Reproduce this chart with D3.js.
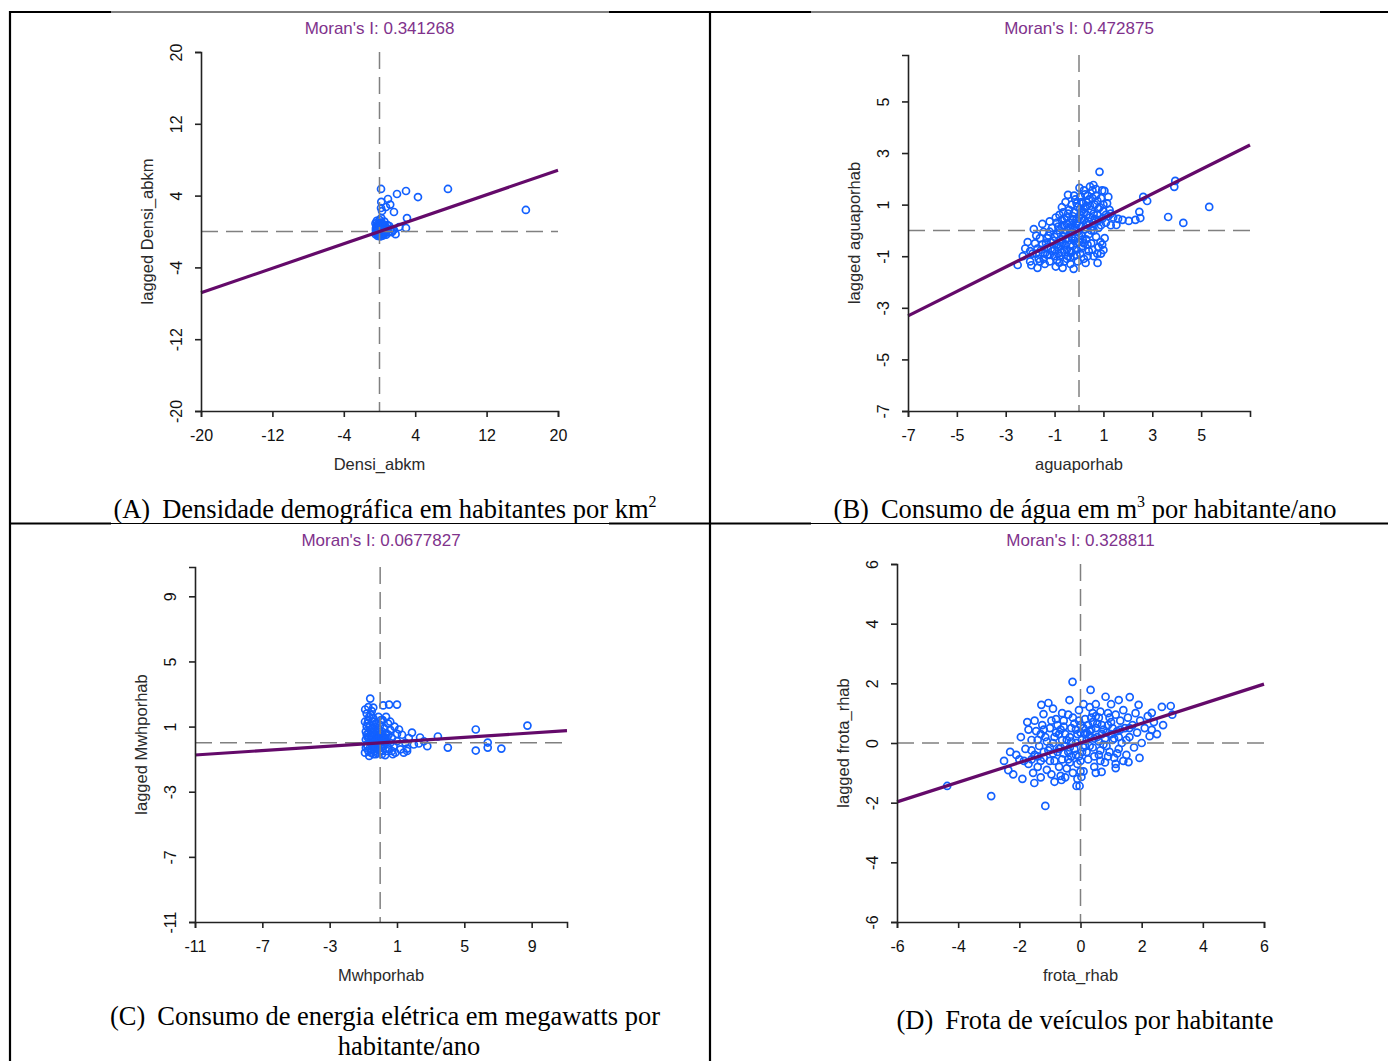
<!DOCTYPE html>
<html>
<head>
<meta charset="utf-8">
<script src="https://cdn.jsdelivr.net/npm/d3@7"></script>
<style>
  body { margin: 0; background: #fff; }
  .tick text { font-family: "Liberation Sans", Arial, sans-serif; font-size: 16px; fill: #111; }
  .eje path, .eje line { stroke: #222; stroke-width: 1.6px; }
  .titulo { font-family: "Liberation Sans", Arial, sans-serif; font-size: 17px; fill: #80328c; }
  .rotulo { font-family: "Liberation Sans", Arial, sans-serif; font-size: 16.5px; fill: #2a2a2a; }
  .legenda { font-family: "Liberation Serif", "Times New Roman", serif; font-size: 26.5px; fill: #000; }
</style>
</head>
<body>
<svg id="fig" width="1388" height="1061"></svg>
<script>
// valores de I de Moran
var moranI = [0.341268, 0.472875, 0.0677827, 0.328811];
var variaveis = ["Densi_abkm", "aguaporhab", "Mwhporhab", "frota_rhab"];
var legendas = [
  ["(A)", "Densidade demográfica em habitantes por km", "2"],
  ["(B)", "Consumo de água em m", "3", " por habitante/ano"],
  ["(C)", "Consumo de energia elétrica em megawatts por", "habitante/ano"],
  ["(D)", "Frota de veículos por habitante"]
];

var ticksA = [-20, -12, -4, 4, 12, 20];
var ticksBx = [-7, -5, -3, -1, 1, 3, 5];
var ticksBy = [-7, -5, -3, -1, 1, 3, 5];
var ticksC = [-11, -7, -3, 1, 5, 9];
var ticksD = [-6, -4, -2, 0, 2, 4, 6];

// [valor padronizado, defasagem espacial]
var densiPts = [
  [-0.45,-0.3],[-0.4,0.1],[-0.35,0.5],[-0.3,-0.1],[-0.25,0.3],[-0.2,0.8],[-0.15,-0.35],[-0.1,0.2],[-0.05,0.6],[0,-0.2],
  [0.05,0.4],[0.1,1.0],[0.15,0.0],[0.2,0.5],[0.25,-0.3],[0.3,0.9],[0.35,0.2],[0.4,-0.1],[0.45,0.6],[0.5,0.3],
  [0.6,-0.2],[0.7,0.4],[0.8,0.1],[0.9,0.7],[1.0,-0.1],[1.2,0.3],[1.4,0.0],[-0.3,1.2],[0.0,1.3],[0.2,1.5],
  [-0.45,0.9],[0.55,1.1],[0.75,-0.35],[1.1,0.6],[1.6,0.2],[1.8,-0.3],[-0.2,-0.5],[0.1,-0.55],[0.4,-0.45],[2.2,0.5],
  [-0.35,-0.15],[-0.25,0.05],[-0.15,0.35],[-0.05,0.0],[0.05,0.15],[0.15,0.6],[0.25,0.2],[0.35,-0.15],[0.45,0.1],[-0.4,0.35],
  [-0.2,0.55],[0.0,0.75],[0.3,0.45],[0.55,0.0],[0.65,0.55],[-0.3,0.7],[0.1,-0.25],[-0.1,-0.2],[0.2,0.9],[0.5,0.75],
  [0.17,4.74],[7.67,4.74],[2.97,4.51],[1.96,4.18],[0.95,3.62],[4.31,3.84],[16.4,2.40],[0.17,2.62],[0.73,2.73],[1.62,2.17],
  [0.28,2.28],[3.08,1.50],[2.97,0.39],[1.40,-0.06],[0.2,3.3],[1.2,3.0]
];
var aguaPts = [
  [-0.9,0.3],[-0.8,0.6],[-0.7,0.9],[-0.6,0.2],[-0.55,1.1],[-0.5,0.5],[-0.45,1.38],[-0.4,0.8],[-0.35,0.1],[-0.3,1.0],
  [-0.25,0.4],[-0.2,0.7],[-0.15,1.2],[-0.1,0.25],[-0.05,0.9],[0.0,0.5],[0.02,1.65],[0.05,1.3],[0.1,0.15],[0.12,0.75],
  [0.15,1.05],[0.2,0.4],[0.25,1.4],[0.3,0.6],[0.32,0.95],[0.35,0.2],[0.4,1.2],[0.45,0.5],[0.5,0.8],[0.55,1.55],
  [0.59,1.76],[0.6,0.3],[0.65,1.0],[0.7,1.35],[0.75,0.6],[0.8,0.1],[0.84,2.27],[0.85,0.9],[0.9,1.25],[0.95,0.45],
  [1.0,0.75],[1.04,1.53],[1.1,0.3],[1.15,1.05],[1.2,0.55],[1.25,0.8],[1.3,0.2],[1.4,0.5],[1.53,0.21],[1.6,0.45],
  [1.78,0.41],[2.04,0.37],[2.31,0.41],[2.51,0.48],[2.47,0.72],[2.63,1.30],[2.79,1.14],[3.90,1.69],[3.94,1.92],[5.33,0.91],
  [3.65,0.52],[4.27,0.29],[0.7,1.6],[0.45,1.7],[0.2,1.55],[-0.2,1.35],[1.2,1.3],[0.95,1.55],
  [-2.51,-1.34],[-2.3,-1.0],[-2.2,-0.7],[-2.0,-1.2],[-1.9,-0.9],[-1.8,-0.5],[-1.7,-1.45],[-1.65,-1.1],[-1.6,-0.3],[-1.55,-0.75],
  [-1.45,-0.06],[-1.4,-1.3],[-1.35,-0.5],[-1.3,-0.95],[-1.25,-0.2],[-1.2,-1.2],[-1.15,-0.7],[-1.1,0.1],[-1.05,-0.4],[-1.0,-1.0],
  [-0.95,-1.4],[-0.9,-0.15],[-0.85,-0.65],[-0.8,-1.25],[-0.75,-0.35],[-0.7,-0.85],[-0.67,-1.45],[-0.6,-0.1],[-0.55,-0.55],[-0.5,-1.1],
  [-0.45,-0.3],[-0.4,-0.8],[-0.35,-1.3],[-0.3,-0.05],[-0.25,-0.6],[-0.22,-1.49],[-0.2,-1.0],[-0.15,-0.3],[-0.1,-0.75],[-0.05,-1.2],
  [0.0,-0.45],[0.05,-0.9],[0.1,-0.2],[0.15,-0.6],[0.2,-1.1],[0.27,-1.26],[0.3,-0.35],[0.4,-0.8],[0.5,-0.5],[0.6,-1.0],
  [0.7,-0.25],[0.76,-1.26],[0.8,-0.65],[0.88,-0.45],[0.9,-0.9],[1.0,-0.76],[1.05,-0.3],[-1.75,-0.2],[-2.1,-0.45],[-1.85,0.05],
  [-1.5,0.25],[-1.2,0.35],[-0.95,0.5],[-0.7,0.15],[-0.5,0.0],[-0.3,-0.25],[0.25,0.05],[0.6,0.0],[0.4,-0.15],[-0.15,0.1],
  [-0.6,-0.75],[-0.9,-0.55],[-1.3,-0.65],[-1.6,-1.2],[-0.8,0.0],[-0.6,0.45],[-0.4,0.3],[-0.2,0.05],[0.0,0.2],[0.2,0.7],
  [0.4,0.35],[0.55,0.15],[0.15,-0.35],[-0.1,-0.5],[-0.35,-0.55],[-0.55,-0.35],[-0.75,-0.6],[-1.0,-0.25],[-1.1,-0.8],[-0.25,0.55],
  [0.05,0.85],[0.3,1.1],[0.6,0.65],[0.8,0.4],[-0.45,0.65],[-0.65,0.7],[-0.05,-0.05],[0.35,-0.55],[0.1,0.45],[-1.4,-0.9],
  [-1.7,-0.7],[-1.95,-1.35],[-0.8,-1.0],[-0.45,-1.0],
  [-1.3,-0.3],[-1.15,-0.45],[-1.0,-0.75],[-0.85,-0.9],[-0.7,-0.5],[-0.65,-0.25],[-0.5,-0.75],[-0.4,-0.15],[-0.3,-0.85],[-0.2,-0.4],
  [-0.1,-0.95],[0.0,-0.2],[0.1,-0.7],[0.2,-0.5],[0.3,0.3],[0.5,0.0],[0.65,0.45],[0.45,0.95],[0.25,0.9],[0.05,0.6],
  [-0.1,0.45],[-0.3,0.2],[-0.5,0.25],[-0.7,0.4],[-0.85,0.15],[-1.2,-0.05],[-1.5,-0.55],[-1.75,-0.9],[-2.0,-0.8],[-1.45,-1.1],
  [-1.2,-0.95],[-0.9,-1.15],[-0.6,-1.2],[-0.35,-1.05],[0.35,-1.0],[0.55,-0.75],[0.75,-0.9],[0.95,-0.55],[0.8,0.85],[1.0,1.0],
  [0.75,1.15],[0.55,1.25],[0.35,1.35],[0.1,1.1],[-0.1,1.05],[1.1,0.6],[1.3,0.65],[0.9,0.2]
];
var mwhPts = [
  [-0.9,-0.6],[-0.85,0.2],[-0.8,1.0],[-0.8,1.8],[-0.75,-0.2],[-0.7,0.6],[-0.7,1.4],[-0.65,-0.8],[-0.6,0.0],[-0.6,1.1],
  [-0.55,1.7],[-0.5,-0.4],[-0.5,0.4],[-0.45,0.9],[-0.4,-0.7],[-0.4,1.5],[-0.35,0.1],[-0.3,0.7],[-0.3,-0.3],[-0.25,1.2],
  [-0.2,-0.6],[-0.2,0.3],[-0.15,0.9],[-0.1,-0.1],[-0.1,1.6],[-0.05,0.5],[0.0,-0.5],[0.0,1.1],[0.05,0.2],[0.1,-0.7],
  [0.1,0.7],[0.15,1.4],[0.2,-0.2],[0.2,0.4],[0.25,0.9],[-0.85,-0.3],[-0.65,0.3],[-0.45,-0.1],[-0.25,0.0],[-0.05,0.2],
  [0.15,0.05],[-0.7,-0.5],[-0.55,-0.6],[-0.35,-0.5],[-0.15,-0.4],[0.05,-0.3],[-0.8,0.5],[-0.6,0.8],[-0.4,0.6],[-0.2,0.6],
  [-0.85,0.7],[-0.75,1.2],[-0.65,1.6],[-0.55,0.2],[-0.45,1.3],[-0.35,0.4],[-0.25,-0.7],[-0.15,0.2],[-0.05,0.8],[0.05,1.4],
  [0.15,-0.5],[0.25,0.3],[-0.8,-0.1],[-0.6,-0.3],[-0.4,0.0],[-0.2,-0.2],[0.0,0.0],[0.2,0.1],[-0.75,0.35],[-0.5,0.65],
  [-0.3,1.0],[-0.1,0.05],[0.1,0.35],[0.3,0.0],[0.4,0.3],[0.6,0.0],[0.5,-0.3],[0.7,-0.5],[0.35,0.6],[-0.9,1.3],
  [-0.59,2.72],[-0.89,2.05],[-0.41,2.17],[0.18,2.3],[0.53,2.35],[1.0,2.35],[-0.7,2.2],[-0.5,1.95],
  [0.47,1.18],[0.6,0.8],[0.7,0.3],[0.8,-0.2],[0.9,-0.6],[1.12,0.82],[1.0,0.1],[1.2,-0.4],[1.3,0.5],[1.5,0.0],
  [1.6,-0.35],[1.89,0.63],[1.7,0.3],[2.0,-0.1],[2.37,0.33],[2.3,-0.04],[2.6,0.1],[3.43,0.39],[4.02,-0.29],[5.68,0.82],
  [5.68,-0.47],[6.39,0.02],[6.39,-0.29],[7.2,-0.35],[8.75,1.06],[1.6,-0.5],[0.4,-0.5],[0.5,0.5],[0.35,1.6],[0.6,1.3],
  [0.85,1.0],[1.0,0.55],[0.3,-0.75],[0.75,-0.7],[1.4,-0.6],[2.8,-0.2]
];
var frotaPts = [
  [-4.36,-1.44],[-2.92,-1.78],[-1.15,-2.11],[-0.26,2.05],[0.33,1.78],[0.82,1.55],[-0.36,1.44],[1.25,1.44],[1.61,1.54],[1.90,1.28],
  [2.66,1.21],[2.95,1.24],[2.33,1.01],[-1.28,1.28],[-1.05,1.34],[-1.21,0.97],[-1.74,0.70],[2.33,0.44],[2.26,0.23],[1.93,-0.50],
  [1.57,-0.64],[1.15,-0.84],[0.69,-0.97],[0.03,-1.14],[-0.13,-1.44],[-0.03,-1.44],[-2.1,-0.40],[-2.36,-0.91],[-1.51,-1.34],[-0.62,-1.24],
  [-2.5,-0.6],[-2.2,-1.05],[-1.9,-1.2],[3.0,0.95],[2.7,0.6],
  [-1.8,-0.2],[-1.7,-0.7],[-1.6,0.1],[-1.55,-1.0],[-1.5,-0.4],[-1.45,0.4],[-1.4,-0.8],[-1.35,-0.1],[-1.3,-1.15],[-1.25,0.6],
  [-1.2,-0.5],[-1.15,0.2],[-1.1,-0.9],[-1.05,-0.25],[-1.0,0.5],[-0.95,-1.05],[-0.9,0.0],[-0.85,-0.6],[-0.8,0.8],[-0.75,-0.3],
  [-0.7,0.3],[-0.65,-1.1],[-0.6,-0.55],[-0.55,0.55],[-0.5,-0.1],[-0.45,-0.85],[-0.4,0.95],[-0.35,0.2],[-0.3,-0.45],[-0.25,-1.0],
  [-0.2,0.65],[-0.15,0.0],[-0.1,-0.7],[-0.05,1.1],[0.0,0.35],[0.05,-0.3],[0.1,-0.95],[0.15,0.8],[0.2,0.1],[0.25,-0.55],
  [0.3,1.2],[0.35,0.45],[0.4,-0.15],[0.45,-0.8],[0.5,0.9],[0.55,0.2],[0.6,-0.4],[0.65,1.05],[0.7,0.6],[0.75,-0.05],
  [0.8,-0.65],[0.85,0.35],[0.9,1.0],[0.95,-0.3],[1.0,0.7],[1.05,0.1],[1.1,-0.5],[1.15,0.95],[1.2,0.4],[1.25,-0.2],
  [1.3,0.75],[1.35,0.0],[1.4,1.1],[1.45,0.5],[1.5,-0.4],[1.55,0.85],[1.6,0.2],[1.7,0.6],[1.75,-0.15],[1.8,1.0],
  [1.85,0.35],[1.95,0.75],[2.0,0.0],[2.1,0.5],[2.2,0.9],[2.4,0.7],[2.5,0.3],[-2.0,-0.55],[-1.95,0.2],[-2.3,-0.3],
  [-1.6,-0.55],[-1.3,0.3],[-1.0,-0.6],[-0.7,-0.8],[-0.5,0.3],[-0.3,0.5],[-0.1,0.3],[0.1,0.5],[0.3,-0.1],[0.5,0.5],
  [0.7,0.3],[0.9,0.6],[-0.6,0.1],[-0.4,-0.3],[-0.2,-0.2],[0.0,-0.6],[0.2,-0.3],[0.4,0.7],[0.6,0.05],[0.8,0.15],
  [1.0,0.3],[-0.9,-0.35],[-1.1,0.05],[-0.8,0.35],[-0.55,-0.35],[0.15,0.3],[0.35,0.85],[0.55,0.65],[-0.15,0.45],[-0.35,-0.65],
  [0.05,0.1],[-0.05,-0.45],[0.25,0.6],[0.45,-0.45],[0.65,-0.25],[0.85,-0.1],[1.05,0.5],[1.25,0.2],[-1.2,-0.3],[-1.4,0.1],
  [-0.75,0.6],[-0.25,0.85],[0.1,-0.15],[-0.45,0.1],[0.3,0.25],[-0.65,-0.15],[1.15,-0.7],[1.4,-0.6],[-0.1,-1.2],[0.0,-0.95],
  [-0.5,-1.15],[-0.85,-1.3],[0.5,-1.0],[-1.7,0.45],[-1.5,0.75],[-0.9,1.15],[-0.6,1.0],[0.1,1.3],[0.5,1.3],[1.0,1.3],
  [-1.4,-0.45],[-1.2,0.45],[-1.0,-0.15],[-0.85,0.2],[-0.7,-0.2],[-0.55,0.75],[-0.4,-0.55],[-0.3,0.05],[-0.15,-0.4],[0.0,0.6],
  [0.15,-0.1],[0.3,0.4],[0.45,0.15],[0.6,0.85],[0.75,0.45],[0.9,-0.45],[1.1,0.15],[1.3,0.45],[1.5,0.1],[-0.65,0.45],
  [-0.35,-0.15],[-0.05,0.75],[0.2,0.35],[0.4,1.0],[-1.6,-0.25],[-1.85,-0.6],[-1.3,-0.6],[-0.95,0.75],[0.65,-0.6],[0.95,0.85],
  [1.2,-0.35],[1.6,0.5]
];

var svg = d3.select("#fig");

// moldura da tabela
var moldura = svg.append("g");
[12, 523.5].forEach(function(y) {
  [[9, 111, 2.2], [111, 609, 1], [609, 811, 2.2], [811, 1320, 1], [1320, 1388, 2.2]].forEach(function(s) {
    moldura.append("line").attr("x1", s[0]).attr("x2", s[1]).attr("y1", y).attr("y2", y)
      .attr("stroke", "#000").attr("stroke-width", s[2]);
  });
});
[10, 710].forEach(function(x) {
  moldura.append("line").attr("x1", x).attr("x2", x).attr("y1", 11).attr("y2", 1061)
    .attr("stroke", "#000").attr("stroke-width", 2.2);
});

var paineis = [
  { pts: densiPts, i: 0, xt: ticksA, yt: ticksA, xd: [-20, 20], yd: [-20, 20], caixa: [201, 52, 558, 411], ty: 28 },
  { pts: aguaPts, i: 1, xt: ticksBx, yt: ticksBy, xd: [-7, 7], yd: [-7, 6.8], caixa: [908, 55, 1250, 411], ty: 28 },
  { pts: mwhPts, i: 2, xt: ticksC, yt: ticksC, xd: [-11, 11.1], yd: [-11, 10.8], caixa: [195, 567, 567, 922], ty: 540 },
  { pts: frotaPts, i: 3, xt: ticksD, yt: ticksD, xd: [-6, 6], yd: [-6, 6], caixa: [897, 564, 1264, 922], ty: 540 }
];

paineis.forEach(function(p) {
  var c = p.caixa;
  var x = d3.scaleLinear().domain(p.xd).range([c[0], c[2]]);
  var y = d3.scaleLinear().domain(p.yd).range([c[3], c[1]]);
  var cx = (c[0] + c[2]) / 2, cy = (c[1] + c[3]) / 2;
  var g = svg.append("g");

  g.append("text").attr("class", "titulo").attr("x", cx).attr("y", p.ty)
    .attr("dy", "0.35em").attr("text-anchor", "middle")
    .text("Moran's I: " + moranI[p.i]);

  // pontos
  g.selectAll("circle").data(p.pts).enter().append("circle")
    .attr("cx", function(d) { return x(d[0]); })
    .attr("cy", function(d) { return y(d[1]); })
    .attr("r", 3.5)
    .attr("fill", "none")
    .attr("stroke", "#1260ff")
    .attr("stroke-width", 1.7);

  // linhas tracejadas em zero
  g.append("line").attr("x1", x(0)).attr("x2", x(0)).attr("y1", c[1]).attr("y2", c[3])
    .attr("stroke", "#808080").attr("stroke-width", 1.5).attr("stroke-dasharray", "17,8");
  g.append("line").attr("x1", c[0]).attr("x2", c[2]).attr("y1", y(0)).attr("y2", y(0))
    .attr("stroke", "#808080").attr("stroke-width", 1.5).attr("stroke-dasharray", "17,8");

  // reta de regressao (inclinacao = I de Moran)
  g.append("line")
    .attr("x1", x(p.xd[0])).attr("y1", y(moranI[p.i] * p.xd[0]))
    .attr("x2", x(p.xd[1])).attr("y2", y(moranI[p.i] * p.xd[1]))
    .attr("stroke", "#640a6a").attr("stroke-width", 3.2);

  var fmt = function(d) { return String(d); };
  var ejeX = d3.axisBottom(x).tickValues(p.xt).tickFormat(fmt).tickSizeOuter(0).tickSize(6);
  var ejeY = d3.axisLeft(y).tickValues(p.yt).tickFormat(fmt).tickSizeOuter(0).tickSize(6);

  g.append("g").attr("class", "eje")
    .attr("transform", "translate(0," + c[3] + ")")
    .call(ejeX)
    .selectAll("text").attr("y", 24).attr("dy", "0.35em");

  g.append("g").attr("class", "eje")
    .attr("transform", "translate(" + c[0] + ",0)")
    .call(ejeY)
    .selectAll("text")
      .attr("x", null).attr("y", null).attr("dy", "0.35em")
      .attr("text-anchor", "middle")
      .attr("transform", "translate(-25,0) rotate(-90)");

  g.append("text").attr("class", "rotulo").attr("x", cx).attr("y", c[3] + 53)
    .attr("dy", "0.35em").attr("text-anchor", "middle").text(variaveis[p.i]);
  g.append("text").attr("class", "rotulo")
    .attr("transform", "translate(" + (c[0] - 54) + "," + cy + ") rotate(-90)")
    .attr("dy", "0.35em").attr("text-anchor", "middle").text("lagged " + variaveis[p.i]);
});

// legendas
function sobrescrito(t, s) {
  t.append("tspan").attr("font-size", "16px").attr("dy", -11).text(s);
}
var la = svg.append("text").attr("class", "legenda").attr("x", 385).attr("y", 518).attr("text-anchor", "middle");
la.append("tspan").text(legendas[0][0]);
la.append("tspan").attr("dx", 12).text(legendas[0][1]);
sobrescrito(la, legendas[0][2]);

var lb = svg.append("text").attr("class", "legenda").attr("x", 1085).attr("y", 518).attr("text-anchor", "middle");
lb.append("tspan").text(legendas[1][0]);
lb.append("tspan").attr("dx", 12).text(legendas[1][1]);
sobrescrito(lb, legendas[1][2]);
lb.append("tspan").attr("font-size", "26.5px").attr("dy", 11).text(legendas[1][3]);

var lc = svg.append("text").attr("class", "legenda").attr("x", 385).attr("y", 1025).attr("text-anchor", "middle");
lc.append("tspan").text(legendas[2][0]);
lc.append("tspan").attr("dx", 12).text(legendas[2][1]);
svg.append("text").attr("class", "legenda").attr("x", 409).attr("y", 1055)
  .attr("text-anchor", "middle").text(legendas[2][2]);

var ld = svg.append("text").attr("class", "legenda").attr("x", 1085).attr("y", 1029).attr("text-anchor", "middle");
ld.append("tspan").text(legendas[3][0]);
ld.append("tspan").attr("dx", 12).text(legendas[3][1]);
</script>
</body>
</html>
